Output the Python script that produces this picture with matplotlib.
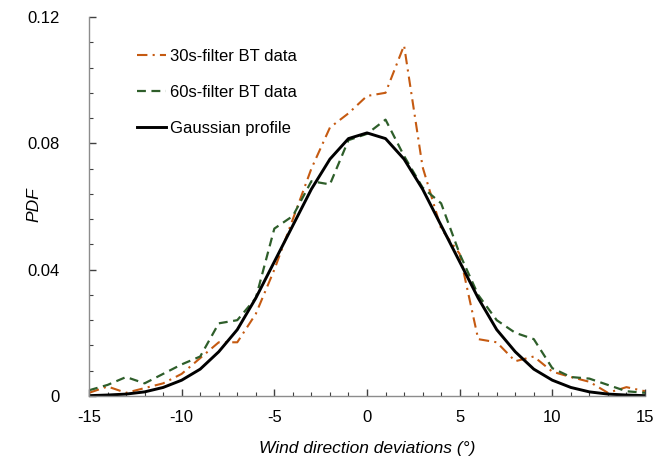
import matplotlib
matplotlib.use("Agg")
import matplotlib.pyplot as plt
from matplotlib.ticker import MultipleLocator, FuncFormatter

plt.rcParams["font.family"] = ["Liberation Sans", "DejaVu Sans"]
plt.rcParams["axes.unicode_minus"] = False

deviation = list(range(-15, 16))

pdf_30s = [0.001, 0.003, 0.001, 0.0025, 0.004, 0.007, 0.012, 0.017, 0.017, 0.026,
           0.040, 0.056, 0.072, 0.085, 0.0895, 0.095, 0.096, 0.111, 0.0725, 0.053,
           0.045, 0.018, 0.017, 0.011, 0.0125, 0.0077, 0.006, 0.0045, 0.001, 0.0028,
           0.0015]

pdf_60s = [0.0018, 0.0035, 0.006, 0.004, 0.007, 0.010, 0.0125, 0.023, 0.024, 0.031,
           0.053, 0.057, 0.068, 0.067, 0.081, 0.083, 0.0875, 0.076, 0.066, 0.061,
           0.045, 0.032, 0.024, 0.020, 0.018, 0.0088, 0.006, 0.0055, 0.0035, 0.0015,
           0.001]

pdf_gauss = [0.0001, 0.0003, 0.0006, 0.0013, 0.0027, 0.005, 0.0085, 0.014, 0.021, 0.031,
             0.0425, 0.054, 0.0655, 0.075, 0.0815, 0.0833, 0.0815, 0.075, 0.0655, 0.054,
             0.0425, 0.031, 0.021, 0.014, 0.0085, 0.005, 0.0027, 0.0013, 0.0006, 0.0003,
             0.0001]

fig = plt.figure(figsize=(6.55, 4.62), dpi=100)
ax = fig.add_axes([0.1359, 0.1429, 0.8488, 0.8203])

ax.plot(deviation, pdf_30s, color="#C55A11", lw=1.5,
        linestyle=(0, (5, 2.5, 1, 2.5)), label="30s-filter BT data")
ax.plot(deviation, pdf_60s, color="#2E5E2A", lw=1.6,
        linestyle=(0, (4, 2.5)), label="60s-filter BT data")
ax.plot(deviation, pdf_gauss, color="black", lw=2.1, label="Gaussian profile")

ax.set_xlim(-15, 15)
ax.set_ylim(0, 0.12)
ax.xaxis.set_major_locator(MultipleLocator(5))
ax.xaxis.set_minor_locator(MultipleLocator(1))
ax.yaxis.set_major_locator(MultipleLocator(0.04))
ax.yaxis.set_minor_locator(MultipleLocator(0.008))
ax.yaxis.set_major_formatter(FuncFormatter(lambda v, p: "0" if abs(v) < 1e-9 else "%.2f" % v))

for side in ["top", "right"]:
    ax.spines[side].set_visible(False)
for side in ["left", "bottom"]:
    ax.spines[side].set_color("#8C8C8C")
    ax.spines[side].set_linewidth(1.0)

ax.tick_params(which="both", direction="in", color="#404040", labelsize=12)
ax.tick_params(axis="x", which="major", length=5, width=1.0, pad=10)
ax.tick_params(axis="y", which="major", length=5, width=1.0, pad=21)
ax.tick_params(which="minor", length=3, width=0.8)

ax.set_xlabel("Wind direction deviations (\u00b0)", fontsize=12.5, style="italic")
ax.set_ylabel("PDF", fontsize=12.5, style="italic")
ax.xaxis.set_label_coords(0.5, -0.118)
ax.yaxis.set_label_coords(-0.085, 0.505)

ax.legend(loc="upper left", bbox_to_anchor=(0.06, 0.955), frameon=False,
          fontsize=12, handlelength=1.7, handletextpad=0.25, labelspacing=1.25)

fig.savefig("out.png", dpi=100)
